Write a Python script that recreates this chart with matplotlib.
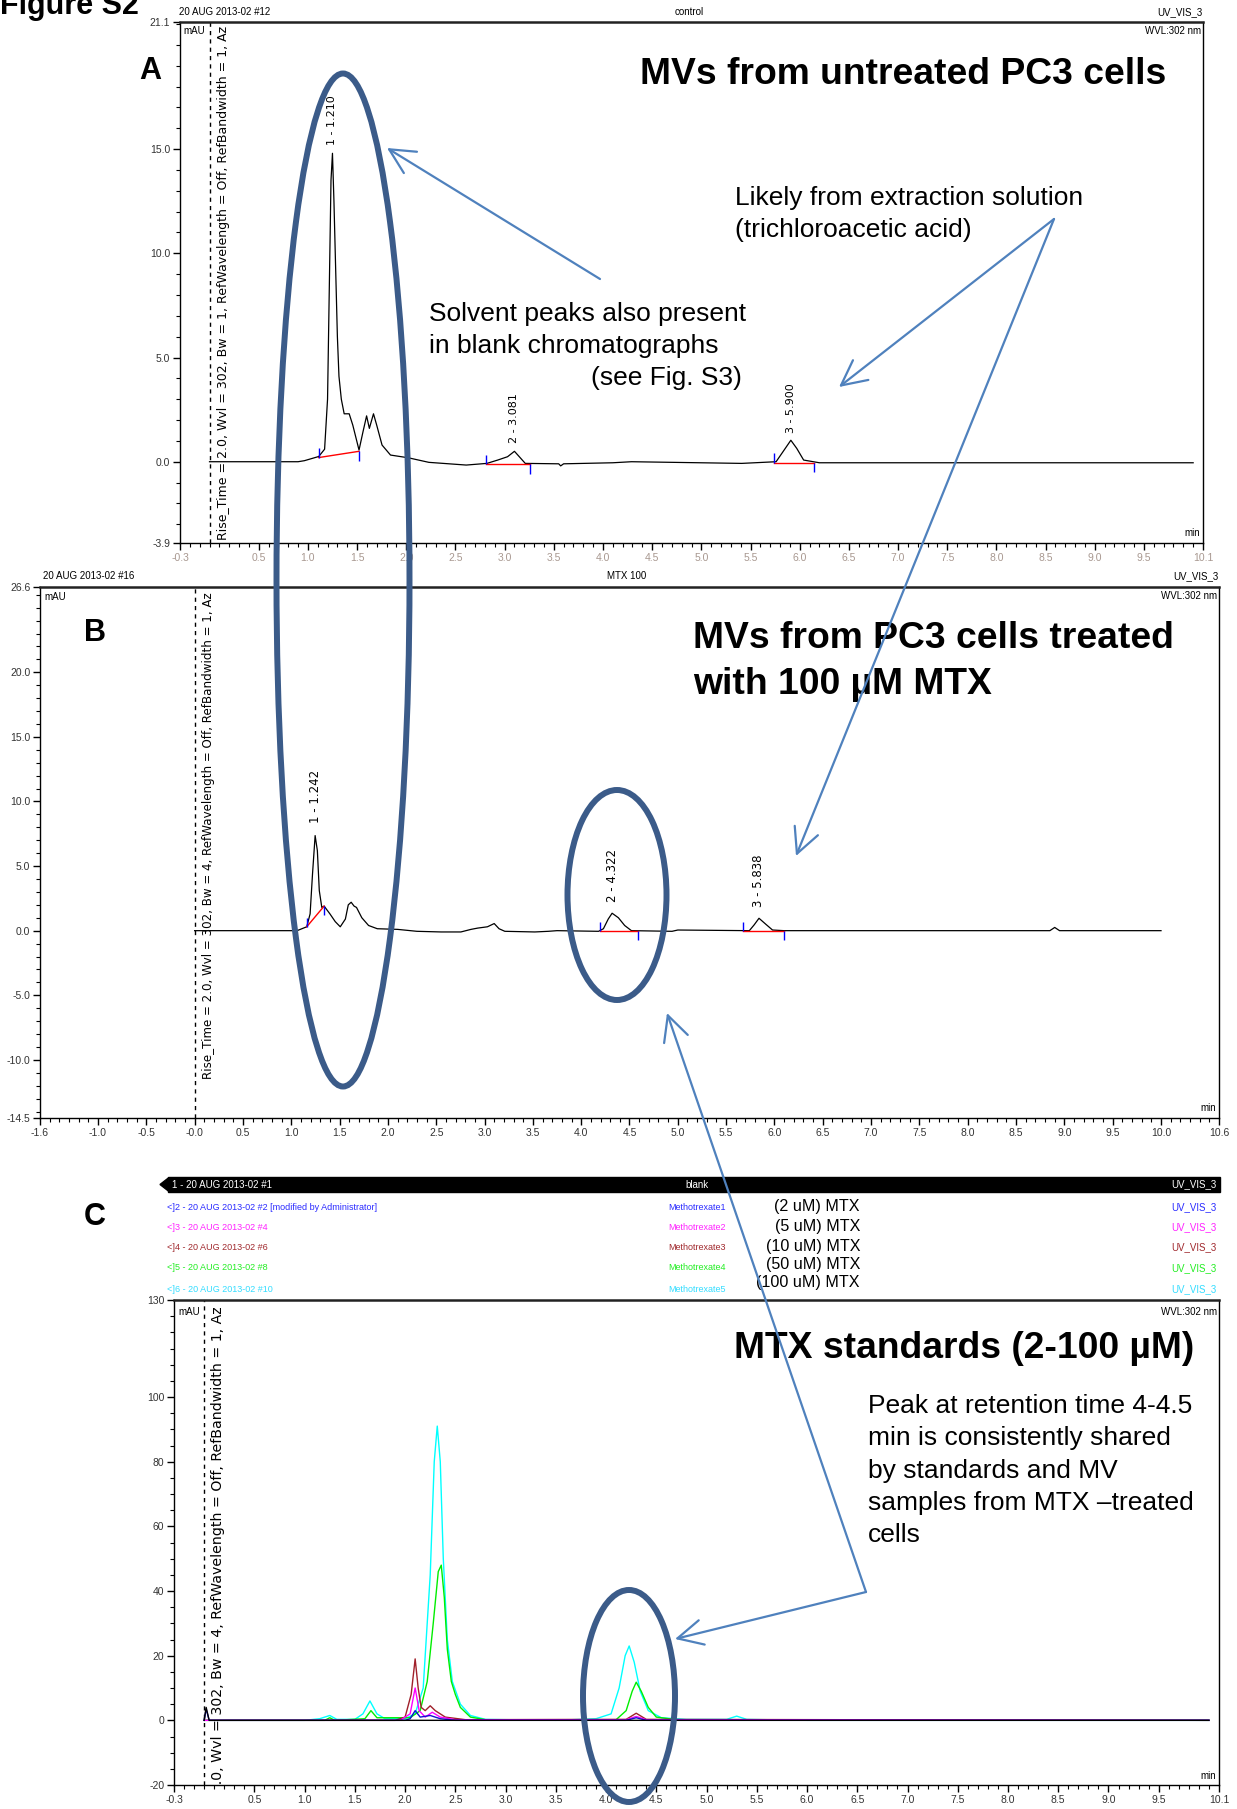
import numpy as np
import matplotlib.pyplot as plt
from matplotlib.patches import Ellipse, Rectangle, Polygon

W, H = 1237, 1809
NARROW = ['Liberation Sans Narrow', 'Liberation Sans', 'DejaVu Sans']
ARIAL = ['Liberation Sans', 'DejaVu Sans']

# ---------------- data ----------------
# panel A : control (untreated PC3 MVs), (time min, mAU)
a_trace = [(0.0, 0.0), (0.90, 0.0), (0.965, 0.05), (1.11, 0.25), (1.17, 0.6), (1.20, 3.0),
           (1.22, 9.0), (1.235, 13.5), (1.25, 14.8), (1.265, 12.5), (1.28, 9.7), (1.30, 6.0),
           (1.316, 4.1), (1.34, 3.0), (1.369, 2.3), (1.42, 2.3), (1.457, 1.75), (1.52, 0.56),
           (1.56, 1.43), (1.597, 2.2), (1.625, 1.6), (1.667, 2.3), (1.70, 1.75), (1.754, 0.8),
           (1.84, 0.32), (2.02, 0.19), (2.23, -0.03), (2.61, -0.16), (2.82, -0.08), (2.93, 0.08),
           (3.03, 0.24), (3.10, 0.5), (3.14, 0.29), (3.21, -0.08), (3.55, -0.1), (3.57, -0.2),
           (3.60, -0.1), (4.10, -0.05), (4.29, 0.0), (5.41, -0.08), (5.76, 0.0), (5.83, 0.48),
           (5.91, 1.03), (5.97, 0.64), (6.04, 0.08), (6.20, -0.05), (10.0, -0.05)]
a_peak_names = ['1 - 1.210', '2 - 3.081', '3 - 5.900']
a_peak_pos = [(1.25, 15.2), (3.10, 0.9), (5.91, 1.4)]
a_int_start = [(1.11, 0.2), (2.81, -0.13), (5.74, -0.05)]
a_int_end = [(1.52, 0.5), (3.26, -0.13), (6.15, -0.05)]

# panel B : MVs from cells treated with 100 uM MTX
b_trace = [(0.0, 0.0), (0.90, 0.0), (1.06, 0.0), (1.16, 0.3), (1.195, 1.3), (1.22, 4.4),
           (1.247, 7.36), (1.27, 6.2), (1.29, 3.1), (1.316, 1.8), (1.34, 1.9), (1.40, 1.3),
           (1.455, 0.7), (1.507, 0.3), (1.56, 0.9), (1.59, 2.0), (1.62, 2.2), (1.65, 1.9),
           (1.675, 1.8), (1.73, 1.0), (1.80, 0.4), (1.89, 0.15), (2.10, 0.1), (2.30, -0.05),
           (2.55, -0.1), (2.755, -0.1), (2.86, 0.1), (2.93, 0.2), (3.03, 0.3), (3.10, 0.55),
           (3.15, 0.15), (3.21, -0.05), (3.52, -0.1), (3.66, -0.05), (3.75, 0.0), (4.18, -0.05),
           (4.23, 0.15), (4.28, 0.9), (4.32, 1.35), (4.385, 1.0), (4.45, 0.4), (4.52, 0.0),
           (4.94, -0.05), (5.0, 0.05), (5.74, 0.0), (5.79, 0.45), (5.84, 0.96), (5.91, 0.5),
           (5.98, 0.05), (6.10, 0.0), (8.85, 0.0), (8.90, 0.25), (8.95, 0.0), (10.0, 0.0)]
b_peak_names = ['1 - 1.242', '2 - 4.322', '3 - 5.838']
b_peak_pos = [(1.247, 8.3), (4.32, 2.2), (5.84, 1.8)]
b_int_start = [(1.16, 0.3), (4.19, -0.05), (5.67, -0.05)]
b_int_end = [(1.34, 1.9), (4.59, -0.05), (6.10, -0.05)]

# panel C : MTX standards
c_blank = [(0.0, 0.0), (0.02, 4.0), (0.05, 0.0), (10.0, 0.0)]
c_2uM = [(0.0, 0.0), (0.02, 3.5), (0.05, 0.0), (2.0, 0.0), (2.05, 0.5), (2.1, 3.0),
         (2.15, 1.0), (2.25, 1.5), (2.35, 0.5), (2.5, 0.0), (4.2, 0.0), (4.3, 0.8),
         (4.4, 0.0), (10.0, 0.0)]
c_5uM = [(0.0, 0.0), (1.95, 0.0), (2.05, 2.0), (2.1, 10.0), (2.14, 3.0), (2.2, 1.0),
         (2.27, 2.5), (2.35, 1.0), (2.5, 0.2), (4.2, 0.2), (4.3, 1.2), (4.4, 0.2), (10.0, 0.0)]
c_10uM = [(0.0, 0.0), (1.9, 0.0), (2.0, 1.0), (2.06, 8.0), (2.1, 19.0), (2.13, 10.0),
          (2.16, 4.0), (2.2, 3.0), (2.25, 4.5), (2.3, 3.0), (2.4, 1.0), (2.6, 0.2),
          (4.2, 0.3), (4.3, 2.2), (4.4, 0.3), (10.0, 0.0)]
c_50uM = [(0.0, 0.0), (1.2, 0.0), (1.25, 0.8), (1.3, 0.0), (1.6, 0.5), (1.66, 3.0),
          (1.72, 0.8), (2.05, 0.8), (2.15, 3.0), (2.22, 12.0), (2.28, 30.0), (2.33, 46.0),
          (2.36, 48.0), (2.39, 38.0), (2.42, 22.0), (2.46, 12.0), (2.5, 8.0), (2.55, 4.0),
          (2.65, 1.0), (2.8, 0.2), (4.1, 0.2), (4.2, 3.0), (4.26, 9.0), (4.30, 11.8),
          (4.35, 9.0), (4.42, 4.0), (4.5, 1.0), (4.7, 0.2), (10.0, 0.0)]
c_100uM = [(0.0, 0.0), (1.0, 0.0), (1.15, 0.5), (1.25, 1.5), (1.32, 0.3), (1.5, 0.3),
           (1.58, 2.0), (1.65, 6.0), (1.72, 2.0), (1.8, 0.5), (2.0, 0.5), (2.1, 2.0),
           (2.18, 10.0), (2.25, 45.0), (2.29, 80.0), (2.32, 91.0), (2.35, 80.0), (2.38, 50.0),
           (2.42, 25.0), (2.47, 12.0), (2.55, 5.0), (2.65, 1.5), (2.8, 0.3), (3.5, 0.0),
           (3.9, 0.5), (4.05, 2.0), (4.13, 10.0), (4.19, 20.0), (4.23, 23.0), (4.28, 18.0),
           (4.34, 9.0), (4.42, 3.0), (4.55, 0.8), (4.8, 0.3), (5.2, 0.3), (5.3, 1.3),
           (5.4, 0.3), (6.0, 0.0), (10.0, 0.0)]
c_traces = [c_100uM, c_50uM, c_10uM, c_5uM, c_2uM, c_blank]
c_colors = ['#00ffff', '#00ee00', '#a0202a', '#ff00ff', '#1010d0', 'black']

leg_runs = ['<]2 - 20 AUG 2013-02 #2 [modified by Administrator]', '<]3 - 20 AUG 2013-02 #4',
            '<]4 - 20 AUG 2013-02 #6', '<]5 - 20 AUG 2013-02 #8', '<]6 - 20 AUG 2013-02 #10']
leg_names = ['Methotrexate1', 'Methotrexate2', 'Methotrexate3', 'Methotrexate4', 'Methotrexate5']
leg_conc = ['(2 uM) MTX', '(5 uM) MTX', '(10 uM) MTX', '(50 uM) MTX', '(100 uM) MTX']
leg_colors = ['#2a2aff', '#ff22ff', '#a0282d', '#22ee22', '#33ddff']

a_xticks = [-0.3, 0.5, 1.0, 1.5, 2.0, 2.5, 3.0, 3.5, 4.0, 4.5, 5.0, 5.5, 6.0, 6.5, 7.0, 7.5,
            8.0, 8.5, 9.0, 9.5, 10.1]
b_xticks = [-1.6, -1.0, -0.5, 0.0, 0.5, 1.0, 1.5, 2.0, 2.5, 3.0, 3.5, 4.0, 4.5, 5.0, 5.5,
            6.0, 6.5, 7.0, 7.5, 8.0, 8.5, 9.0, 9.5, 10.0, 10.6]
a_yticks = [-3.9, 0.0, 5.0, 10.0, 15.0, 21.1]
b_yticks = [-14.5, -10.0, -5.0, 0.0, 5.0, 10.0, 15.0, 20.0, 26.6]
c_yticks = [-20, 0, 20, 40, 60, 80, 100, 130]

fig = plt.figure(figsize=(W / 100, H / 100), dpi=100)


def px_axes(l, t, r, b):
    return fig.add_axes([l / W, 1 - b / H, (r - l) / W, (b - t) / H])


def style(ax, xlim, ylim, xt, yt, ylabfmt, xminor, yminor, xcol):
    ax.set_xlim(xlim)
    ax.set_ylim(ylim)
    ax.set_xticks(xt)
    xl = ['-0.0' if v == 0 else '%.1f' % v for v in xt]
    ax.set_xticklabels(xl, fontsize=7.5, family=NARROW, color=xcol)
    ax.set_yticks(yt)
    ax.set_yticklabels([ylabfmt % v for v in yt], fontsize=7.5, family=NARROW, color='#333333')
    ax.set_xticks(xminor, minor=True)
    ax.set_yticks(yminor, minor=True)
    ax.tick_params(which='major', direction='out', length=5, width=1, pad=2)
    ax.tick_params(which='minor', direction='out', length=3, width=0.8)
    for s in ax.spines.values():
        s.set_linewidth(1.0)
    ax.spines['top'].set_linewidth(1.8)
    ax.spines['top'].set_color('#222222')
    ax.axvline(0, color='black', ls=(0, (3, 3)), lw=1.0)


def draw_trace(ax, trace, color, lw=0.9):
    t = [p[0] for p in trace]
    y = [p[1] for p in trace]
    ax.plot(t, y, color=color, lw=lw)


def draw_integration(ax, starts, ends, tick):
    for s, e in zip(starts, ends):
        ax.plot([s[0], e[0]], [s[1], e[1]], color='red', lw=1.0)
        ax.vlines(s[0], s[1], s[1] + tick, color='blue', lw=1.0)
        ax.vlines(e[0], e[1] - tick, e[1], color='blue', lw=1.0)


# ---------------- panel A ----------------
axA = px_axes(180, 22, 1203, 543)
style(axA, (-0.3, 10.1), (-3.9, 21.1), a_xticks, a_yticks, '%.1f',
      np.arange(-0.3, 10.15, 0.1), np.arange(-3, 21.1, 1.0), '#a89890')
draw_trace(axA, a_trace, 'black')
draw_integration(axA, a_int_start, a_int_end, 0.45)
for name, (t, y) in zip(a_peak_names, a_peak_pos):
    axA.text(t, y, name, rotation=90, ha='center', va='bottom', fontsize=8)
axA.text(0.08, 20.9, 'Rise_Time = 2.0, Wvl = 302, Bw = 1, RefWavelength = Off, RefBandwidth = 1, Az',
         rotation=90, ha='left', va='top', fontsize=9, clip_on=True)

# ---------------- panel B ----------------
axB = px_axes(40, 587, 1219, 1118)
style(axB, (-1.6, 10.6), (-14.5, 26.6), b_xticks, b_yticks, '%.1f',
      np.arange(-1.6, 10.65, 0.1), np.arange(-14, 26.6, 1.0), '#333333')
draw_trace(axB, b_trace, 'black')
draw_integration(axB, b_int_start, b_int_end, 0.7)
for name, (t, y) in zip(b_peak_names, b_peak_pos):
    axB.text(t, y, name, rotation=90, ha='center', va='bottom', fontsize=8.5)
axB.text(0.08, 26.2, 'Rise_Time = 2.0, Wvl = 302, Bw = 4, RefWavelength = Off, RefBandwidth = 1, Az',
         rotation=90, ha='left', va='top', fontsize=8.6, clip_on=True)

# ---------------- panel C ----------------
axC = px_axes(174, 1300, 1219, 1785)
style(axC, (-0.3, 10.1), (-20, 130), a_xticks, c_yticks, '%d',
      np.arange(-0.3, 10.15, 0.1), np.arange(-20, 131, 5), '#333333')
for tr, col in zip(c_traces, c_colors):
    draw_trace(axC, tr, col, lw=1.0)
axC.text(0.07, 128, 'Rise_Time = 2.0, Wvl = 302, Bw = 4, RefWavelength = Off, RefBandwidth = 1, Az',
         rotation=90, ha='left', va='top', fontsize=10.2, clip_on=True)

# ---------------- overlay (headers, notes, ellipses, arrows) ----------------
ov = fig.add_axes([0, 0, 1, 1])
ov.set_xlim(0, W)
ov.set_ylim(H, 0)
ov.axis('off')


def t(x, y, s, size=7, ha='left', va='center', fam=NARROW, **kw):
    ov.text(x, y, s, fontsize=size, ha=ha, va=va, family=fam, **kw)


t(0, 14, 'Figure S2', 22, va='baseline', fam=ARIAL, weight='bold')

# headers A
t(179, 12, '20 AUG 2013-02 #12')
t(689, 12, 'control', ha='center')
t(1203, 12, 'UV_VIS_3', ha='right')
t(1201, 31, 'WVL:302 nm', ha='right')
t(183, 31, 'mAU')
t(1200, 533, 'min', ha='right')
# headers B
t(43, 576, '20 AUG 2013-02 #16')
t(627, 576, 'MTX 100', ha='center')
t(1218, 576, 'UV_VIS_3', ha='right')
t(1217, 596, 'WVL:302 nm', ha='right')
t(44, 597, 'mAU')
t(1216, 1108, 'min', ha='right')
# headers C (overlay legend)
ov.add_patch(Rectangle((168, 1177), 1051.5, 15, color='black'))
ov.add_patch(Polygon([(160, 1184.5), (169, 1177.5), (169, 1191.5)], closed=True, color='black'))
t(172, 1184.5, '1 - 20 AUG 2013-02 #1', color='white')
t(697, 1184.5, 'blank', ha='center', color='white')
t(1217, 1184.5, 'UV_VIS_3', ha='right', color='white')
row_y = [1207, 1227, 1247.5, 1268, 1289]
conc_y = [1207, 1226.5, 1246, 1265, 1283]
for i in range(5):
    t(167, row_y[i], leg_runs[i], 6.5, color=leg_colors[i])
    t(697, row_y[i], leg_names[i], 6.5, ha='center', color=leg_colors[i])
    t(1217, row_y[i], 'UV_VIS_3', 7, ha='right', color=leg_colors[i])
    t(860, conc_y[i], leg_conc[i], 11.6, ha='right', fam=ARIAL)
t(1217, 1312, 'WVL:302 nm', ha='right')
t(178, 1312, 'mAU')
t(1216, 1776, 'min', ha='right')

# panel letters and notes
t(150, 71, 'A', 22, ha='center', fam=ARIAL, weight='bold')
t(95, 633, 'B', 22, ha='center', fam=ARIAL, weight='bold')
t(95, 1217, 'C', 22, ha='center', fam=ARIAL, weight='bold')
t(640, 75, 'MVs from untreated PC3 cells', 26.8, fam=ARIAL, weight='bold')
t(693, 639, 'MVs from PC3 cells treated', 26.8, fam=ARIAL, weight='bold')
t(693, 684, 'with 100 \u00b5M MTX', 26.8, fam=ARIAL, weight='bold')
t(734, 1348, 'MTX standards (2-100 \u00b5M)', 26.8, fam=ARIAL, weight='bold')
t(735, 198, 'Likely from extraction solution', 19, fam=ARIAL)
t(735, 230, '(trichloroacetic acid)', 19, fam=ARIAL)
t(429, 314, 'Solvent peaks also present', 19, fam=ARIAL)
t(429, 346, 'in blank chromatographs', 19, fam=ARIAL)
t(591, 378, '(see Fig. S3)', 19, fam=ARIAL)
note_lines = ['Peak at retention time 4-4.5', 'min is consistently shared', 'by standards and MV',
              'samples from MTX \u2013treated', 'cells']
for i, line in enumerate(note_lines):
    t(868, 1406 + 32.3 * i, line, 19, fam=ARIAL)

# ellipses
ell_col = '#3b5b89'
for cx, cy, w, h in [(343, 580, 133, 1013), (617, 895, 99, 210), (629, 1696, 92, 212)]:
    ov.add_patch(Ellipse((cx, cy), w, h, fill=False, edgecolor=ell_col, lw=4.3))

# arrows
arr_col = '#4f81bd'
for (x0, y0), (x1, y1) in [((600, 279), (387, 148)), ((1054, 219), (839, 387)),
                           ((1054, 219), (796, 856)), ((866, 1592), (667, 1013)),
                           ((866, 1592), (675, 1639))]:
    ov.annotate('', xy=(x1, y1), xytext=(x0, y0),
                arrowprops=dict(arrowstyle='->,head_length=0.9,head_width=0.45',
                                color=arr_col, lw=1.6, mutation_scale=20,
                                shrinkA=0, shrinkB=0))

fig.savefig('out.png', dpi=100)
